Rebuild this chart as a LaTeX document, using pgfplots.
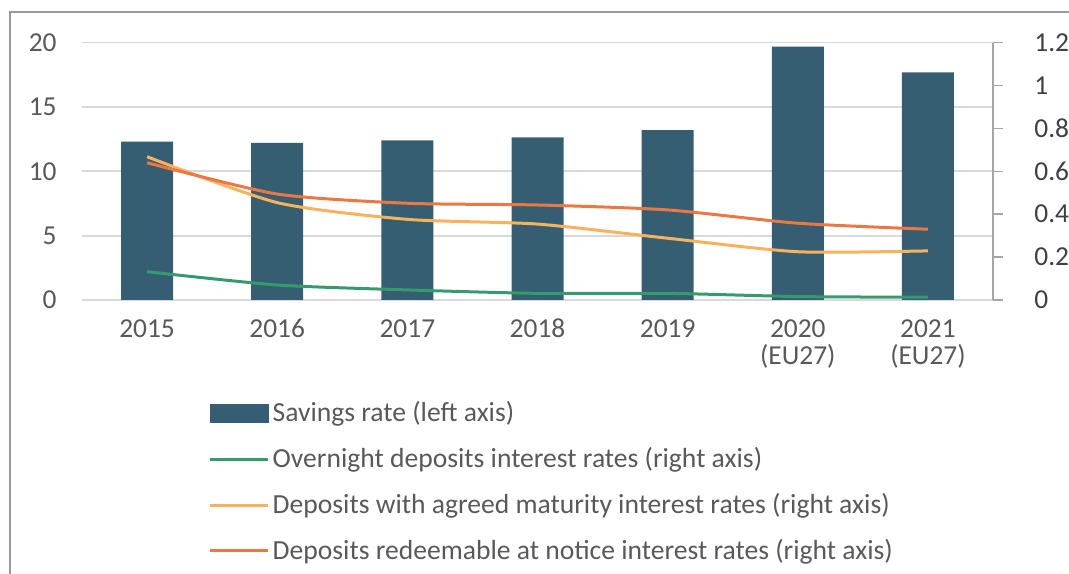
\documentclass[border=0pt]{standalone}
\usepackage{pgfplots}
\pgfplotsset{compat=1.18}
\usepackage{fontspec}
\setmainfont{Carlito}
\definecolor{barc}{HTML}{365E72}
\definecolor{greenc}{HTML}{359B6C}
\definecolor{yellc}{HTML}{F7B35B}
\definecolor{orc}{HTML}{EA7843}
\definecolor{txt}{HTML}{595959}
\definecolor{gridc}{HTML}{D9D9D9}
\begin{document}
\fontsize{13.5pt}{16pt}\selectfont
\begin{tikzpicture}
\path[use as bounding box] (0,0) rectangle (534.5pt,286.5pt);
\draw[color=black!40, line width=0.8pt] (5pt,-5pt) -- (5pt,280.5pt) -- (540pt,280.5pt);
\begin{axis}[
  at={(41pt,136.5pt)}, anchor=south west, scale only axis,
  width=455.5pt, height=128.7pt,
  xmin=-0.5, xmax=6.5, ymin=0, ymax=20,
  ytick={0,5,10,15,20},
  xtick={0,1,2,3,4,5,6},
  xticklabels={{\vphantom{(}2015},{\vphantom{(}2016},{\vphantom{(}2017},{\vphantom{(}2018},{\vphantom{(}2019},{\vphantom{(}2020\\(EU27)},{\vphantom{(}2021\\(EU27)}},
  xticklabel style={align=center, text=txt, yshift=-8.7pt, inner sep=0pt},
  yticklabel style={text=txt, xshift=-8pt},
  axis line style={draw=none},
  major tick length=0pt,
  ymajorgrids, grid style={gridc, line width=0.9pt},
  /pgf/number format/assume math mode=true,
  ticklabel style={font=\fontsize{13.7pt}{13.5pt}\selectfont},
]
\addplot[ybar, bar width=26pt, fill=barc, draw=none] coordinates {
(0,12.3) (1,12.2) (2,12.4) (3,12.64) (4,13.2) (5,19.68) (6,17.69)};
\end{axis}
\begin{axis}[
  at={(41pt,136.5pt)}, anchor=south west, scale only axis,
  width=455.5pt, height=128.7pt,
  xmin=-0.5, xmax=6.5, ymin=0, ymax=1.2,
  ytick={0,0.2,0.4,0.6,0.8,1,1.2},
  axis x line=none,
  axis y line*=right,
  y axis line style={color=black!35, line width=0.8pt},
  ytick style={color=black!35, line width=0.8pt},
  tick align=outside, major tick length=5pt,
  yticklabel style={text=black!75, xshift=11pt},
  /pgf/number format/assume math mode=true,
  ticklabel style={font=\fontsize{13.7pt}{15pt}\selectfont},
  legend style={at={(0.132,-0.365)}, anchor=north west, draw=none, fill=none,
    font=\fontsize{13.8pt}{15pt}\selectfont, text=txt,
    row sep=7.8pt, nodes={inner sep=1.5pt}},
  legend cell align=left,
  legend image code/.code={\draw[#1, line width=1.5pt] (0pt,0pt) -- (29pt,0pt);},
]
\addlegendimage{legend image code/.code={\fill[barc] (0pt,-4.5pt) rectangle (29pt,4.5pt);}}
\addlegendentry{Savings rate (left axis)}
\addplot[greenc, line width=1.5pt, smooth, tension=0.4] coordinates {
(0,0.132) (1,0.07) (2,0.047) (3,0.031) (4,0.031) (5,0.016) (6,0.013)};
\addlegendentry{Overnight deposits interest rates (right axis)}
\addplot[yellc, line width=1.5pt, smooth, tension=0.4] coordinates {
(0,0.668) (1,0.454) (2,0.376) (3,0.354) (4,0.288) (5,0.225) (6,0.229)};
\addlegendentry{Deposits with agreed maturity interest rates (right axis)}
\addplot[orc, line width=1.5pt, smooth, tension=0.4] coordinates {
(0,0.64) (1,0.494) (2,0.451) (3,0.443) (4,0.42) (5,0.358) (6,0.33)};
\addlegendentry{Deposits redeemable at notice interest rates (right axis)}
\end{axis}
\end{tikzpicture}
\end{document}
